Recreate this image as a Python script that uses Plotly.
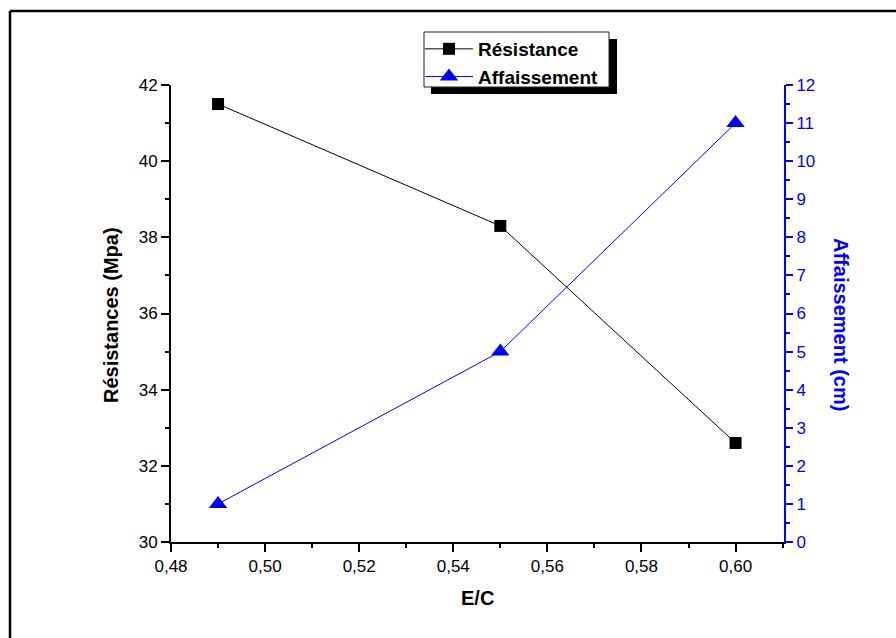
import plotly.graph_objects as go

ec = [0.49, 0.55, 0.60]
resistance = [41.5, 38.3, 32.6]
affaissement = [1, 5, 11]

W, H = 896, 638
L, R, T, B = 171, 112, 85, 96
PW, PH = W - L - R, H - T - B

def px(x):
    return (x - L) / PW

def py(y):
    return (H - B - y) / PH

FONT = "Liberation Sans, Arial, sans-serif"
BLUE = "#0000FF"

fig = go.Figure()
fig.add_trace(go.Scatter(
    x=ec, y=resistance, name="<b>Résistance</b>", mode="lines+markers",
    line=dict(color="black", width=1),
    marker=dict(symbol="square", size=12, color="black"),
    yaxis="y"))
fig.add_trace(go.Scatter(
    x=ec, y=affaissement, name="<b>Affaissement</b>", mode="lines+markers",
    line=dict(color=BLUE, width=1),
    marker=dict(symbol="triangle-up", size=16, color=BLUE),
    yaxis="y2"))

fig.update_layout(
    width=W, height=H,
    margin=dict(l=L, r=R, t=T, b=B, pad=0),
    paper_bgcolor="white", plot_bgcolor="rgba(0,0,0,0)",
    separators=", ",
    font=dict(family=FONT, size=17, color="black"),
    showlegend=True,
    legend=dict(x=px(420), y=py(30), xanchor="left", yanchor="top",
                bgcolor="rgba(0,0,0,0)", borderwidth=0,
                font=dict(family=FONT, size=19, color="black"),
                itemwidth=48, tracegroupgap=0),
    xaxis=dict(range=[0.48, 0.6103], dtick=0.02, tick0=0.48, tickformat=".2f",
               showgrid=False, zeroline=False, showline=True, linecolor="black",
               linewidth=2, ticks="outside", ticklen=8, tickwidth=2, tickcolor="black",
               minor=dict(dtick=0.01, ticks="outside", ticklen=4, tickwidth=2,
                          tickcolor="black", showgrid=False),
               tickfont=dict(size=17, color="black")),
    yaxis=dict(range=[30, 42], dtick=2, tick0=30,
               showgrid=False, zeroline=False, showline=True, linecolor="black",
               linewidth=2, ticks="outside", ticklen=8, tickwidth=2, tickcolor="black",
               minor=dict(dtick=1, ticks="outside", ticklen=4, tickwidth=2,
                          tickcolor="black", showgrid=False),
               tickfont=dict(size=17, color="black")),
    yaxis2=dict(range=[0, 12], dtick=1, tick0=0, overlaying="y", side="right",
                showgrid=False, zeroline=False, showline=True, linecolor=BLUE,
                linewidth=2, ticks="outside", ticklen=7, tickwidth=2, tickcolor=BLUE,
                minor=dict(dtick=0.5, ticks="outside", ticklen=4, tickwidth=2,
                           tickcolor=BLUE, showgrid=False),
                tickfont=dict(size=17, color=BLUE)),
)

shapes = [
    # outer frame (top and left edges)
    dict(type="line", xref="paper", yref="paper", x0=px(10), x1=px(W + 5), y0=py(11), y1=py(11),
         line=dict(color="black", width=2.5)),
    dict(type="line", xref="paper", yref="paper", x0=px(10), x1=px(10), y0=py(11), y1=py(H + 5),
         line=dict(color="black", width=2.5)),
    # legend shadow and box
    dict(type="rect", xref="paper", yref="paper", x0=px(431), x1=px(617), y0=py(39), y1=py(94),
         fillcolor="black", line=dict(width=0), layer="below"),
    dict(type="rect", xref="paper", yref="paper", x0=px(424), x1=px(609), y0=py(32), y1=py(87),
         fillcolor="white", line=dict(color="#222222", width=1), layer="below"),
]
fig.update_layout(shapes=shapes)

fig.add_annotation(text="<b>Résistances (Mpa)</b>", xref="paper", yref="paper",
                   x=px(111), y=py(315), xanchor="center", yanchor="middle",
                   textangle=-90, showarrow=False,
                   font=dict(family=FONT, size=20, color="black"))
fig.add_annotation(text="<b>Affaissement (cm)</b>", xref="paper", yref="paper",
                   x=px(841), y=py(324), xanchor="center", yanchor="middle",
                   textangle=90, showarrow=False,
                   font=dict(family=FONT, size=20, color=BLUE))
fig.add_annotation(text="<b>E/C</b>", xref="paper", yref="paper",
                   x=px(478), y=py(598), xanchor="center", yanchor="middle",
                   showarrow=False,
                   font=dict(family=FONT, size=20, color="black"))

fig.write_html("out.html")
